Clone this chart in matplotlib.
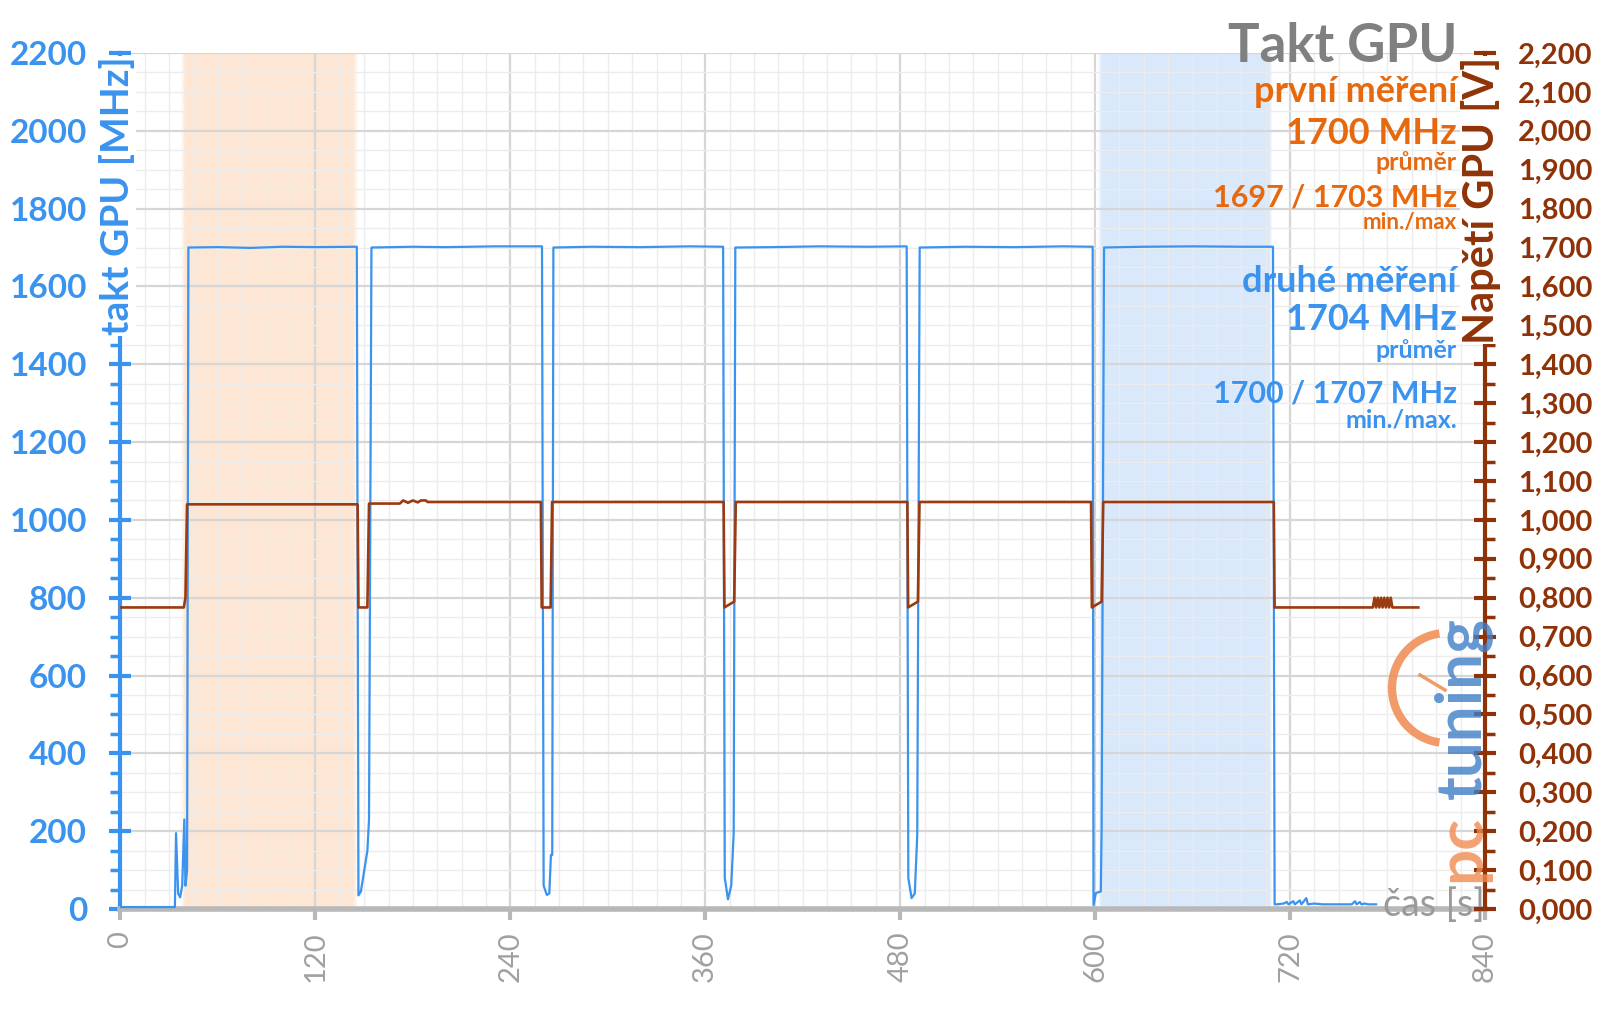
"""
GPU clock (MHz) and GPU voltage (V) over time, two measurement windows highlighted.
"""

import matplotlib
matplotlib.use("Agg")
import matplotlib.pyplot as plt
from matplotlib.ticker import MultipleLocator, FixedLocator
from matplotlib.patches import Arc

plt.rcParams["font.family"] = ["Lato", "DejaVu Sans"]

# --- data ----------------------------------------------------------------
clock_t = [0, 33.5, 34.2, 35.5, 36.7, 38, 39.3, 40, 41, 41.8, 60, 80, 100, 120, 145.5,
           146.5, 148, 152, 153, 154.5, 180, 200, 230, 259.5,
           260.5, 262.5, 264, 265, 265.8, 266.5, 290, 320, 350, 371,
           372, 374, 376, 377.5, 378.5, 400, 430, 460, 484,
           485, 487, 489, 490.5, 492, 520, 550, 580, 598.5,
           599, 600.5, 603.5, 604, 605.5, 630, 660, 690, 709.5,
           710.5, 712, 716, 718, 719, 722, 723, 726, 727, 730, 731, 735, 740, 750,
           758, 760, 761, 763, 764, 766, 768, 773]
clock_mhz = [5, 5, 195, 40, 30, 60, 230, 60, 100, 1700, 1701, 1699, 1702, 1701, 1702,
             35, 45, 150, 230, 1700, 1702, 1701, 1703, 1703,
             60, 36, 40, 139, 139, 1700, 1702, 1701, 1703, 1702,
             80, 25, 60, 195, 1700, 1701, 1703, 1702, 1703,
             80, 28, 40, 190, 1700, 1702, 1701, 1703, 1702,
             10, 41, 45, 203, 1700, 1702, 1703, 1702, 1702,
             12, 12, 14, 18, 12, 20, 12, 22, 12, 28, 12, 14, 12, 12,
             12, 20, 12, 18, 12, 14, 12, 12]

volt_t = [0, 39, 40, 41, 146, 146.5, 152, 153, 172, 174, 177, 180, 183, 185, 188, 189,
          258.8, 259.3, 264.8, 265.7, 371.3, 371.8, 377.8, 378.8,
          484.4, 484.9, 490.9, 491.9, 597.5, 598, 604, 605, 710, 710.5,
          771, 772, 773, 774, 775, 776, 777, 778, 779, 780, 781, 782, 783, 799]
volt_v = [0.775, 0.775, 0.80, 1.040, 1.040, 0.775, 0.775, 1.042, 1.042, 1.050, 1.044, 1.050,
          1.045, 1.050, 1.050, 1.046,
          1.046, 0.775, 0.775, 1.046, 1.046, 0.775, 0.790, 1.046,
          1.046, 0.775, 0.790, 1.046, 1.046, 0.775, 0.790, 1.046, 1.046, 0.775,
          0.775, 0.80, 0.775, 0.80, 0.775, 0.80, 0.775, 0.80, 0.775, 0.80, 0.775, 0.80, 0.775, 0.775]

first_window = (40, 143)    # first measurement (orange)
second_window = (604, 707)  # second measurement (blue)

x_ticks = [0, 120, 240, 360, 480, 600, 720, 840]
mhz_ticks = list(range(0, 2201, 200))
volt_ticks = [i / 10 for i in range(0, 23)]

BLUE = "#3a93ee"
ORANGE = "#e8680e"
BROWN = "#8f3208"
GREY = "#9a9a9a"


def soft_band(ax, x0, x1, color, fade_left, fade_right):
    ax.axvspan(x0, x1, color=color, lw=0, zorder=0.4)
    steps = 5
    for i in range(steps):
        a = 1 - (i + 1) / (steps + 1)
        w = fade_left / steps
        ax.axvspan(x0 - (i + 1) * w, x0 - i * w, color=color, alpha=a, lw=0, zorder=0.4)
        w = fade_right / steps
        ax.axvspan(x1 + i * w, x1 + (i + 1) * w, color=color, alpha=a, lw=0, zorder=0.4)


fig = plt.figure(figsize=(16, 10.09), dpi=100)
ax = fig.add_axes([0.0753, 0.0991, 0.8528, 0.8484])
ax2 = ax.twinx()

soft_band(ax, *first_window, "#fde6d3", 3, 3)
soft_band(ax, *second_window, "#d9e8fb", 2, 2)

ax.plot(clock_t, clock_mhz, color=BLUE, lw=1.6, zorder=3)
ax2.plot(volt_t, volt_v, color="#9b3a10", lw=1.9, zorder=4)

ax.set_xlim(0, 840)
ax.set_ylim(0, 2200)
ax2.set_ylim(0, 2.2)

ax.xaxis.set_major_locator(FixedLocator(x_ticks))
ax.xaxis.set_minor_locator(MultipleLocator(15))
ax.yaxis.set_major_locator(FixedLocator(mhz_ticks))
ax.yaxis.set_minor_locator(MultipleLocator(50))
ax2.yaxis.set_major_locator(FixedLocator(volt_ticks))
ax2.yaxis.set_minor_locator(MultipleLocator(0.05))

ax.set_axisbelow(True)
ax.grid(which="major", color="#d6d6d6", lw=1.6)
ax.grid(which="minor", color="#ececec", lw=1.0)

for s in ("top", "right"):
    ax.spines[s].set_visible(False)
ax.spines["left"].set_color(BLUE)
ax.spines["left"].set_linewidth(3)
ax.spines["bottom"].set_color("#b8b8b8")
ax.spines["bottom"].set_linewidth(4)
for s in ("top", "left", "bottom"):
    ax2.spines[s].set_visible(False)
ax2.spines["right"].set_color(BROWN)
ax2.spines["right"].set_linewidth(3)

ax.tick_params(axis="x", which="major", direction="out", length=8, width=3, color="#b8b8b8",
               labelsize=21, labelcolor="#a0a0a0", labelrotation=90, pad=8)
ax.tick_params(axis="x", which="minor", length=0)
ax.tick_params(axis="y", which="major", direction="inout", length=16, width=3, color=BLUE,
               labelsize=24, labelcolor=BLUE, pad=16)
ax.tick_params(axis="y", which="minor", direction="out", length=7, width=2.5, color=BLUE)
ax2.tick_params(axis="y", which="major", direction="inout", length=16, width=3, color=BROWN,
                labelsize=21, labelcolor=BROWN, pad=16)
ax2.tick_params(axis="y", which="minor", direction="out", length=7, width=2.5, color=BROWN)

ax.set_yticklabels([str(v) for v in mhz_ticks], fontweight="bold")
ax2.set_yticklabels([f"{v:.3f}".replace(".", ",") for v in volt_ticks], fontweight="bold")
ax.set_xticklabels([str(v) for v in x_ticks])

# axis titles sitting on top of the spines
fig.text(117 / 1600, 1 - 196 / 1009, "takt GPU [MHz]", rotation=90, ha="center", va="center",
         fontsize=28, fontweight="bold", color=BLUE, zorder=10,
         bbox=dict(facecolor="white", edgecolor="none", pad=0.5))
fig.text(1481 / 1600, 1 - 200 / 1009, "Napětí GPU [V]", rotation=90, ha="center", va="center",
         fontsize=30, fontweight="bold", color=BROWN, zorder=10,
         bbox=dict(facecolor="white", edgecolor="none", pad=0.5))

# pctuning watermark
fig.patches.append(Arc((1447 / 1600, 1 - 688 / 1009), 110 / 1600, 110 / 1009, theta1=95, theta2=265,
                       transform=fig.transFigure, color="#f08a50", lw=6, alpha=0.85))
fig.lines.append(plt.Line2D([1445 / 1600, 1420 / 1600], [1 - 690 / 1009, 1 - 675 / 1009],
                            transform=fig.transFigure, color="#f08a50", lw=2.5, alpha=0.85))
fig.text(1462 / 1600, 1 - 708 / 1009, "tuning", rotation=90, ha="center", va="center",
         fontsize=46, fontweight="bold", color="#3f7fc6", alpha=0.8)
fig.text(1462 / 1600, 1 - 848 / 1009, "pc", rotation=90, ha="center", va="center",
         fontsize=46, fontweight="bold", color="#f08a50", alpha=0.8)

ax.text(840, 10, "čas [s]", ha="right", va="center", fontsize=27, color=GREY, zorder=6)

# summary block, top right
rx = 1457 / 1600
block = [
    ("Takt GPU", 46, 38, "#808080"),
    ("první měření", 92, 26, ORANGE),
    ("1700 MHz", 134, 26, ORANGE),
    ("průměr", 163, 18, ORANGE),
    ("1697 / 1703 MHz", 197, 22, ORANGE),
    ("min./max", 222, 16, ORANGE),
    ("druhé měření", 281, 26, BLUE),
    ("1704 MHz", 320, 26, BLUE),
    ("průměr", 350, 18, BLUE),
    ("1700 / 1707 MHz", 393, 22, BLUE),
    ("min./max.", 420, 18, BLUE),
]
for txt, ypx, size, col in block:
    fig.text(rx, 1 - ypx / 1009, txt, ha="right", va="center", fontsize=size,
             fontweight="bold", color=col, zorder=10)

fig.savefig("out.png", dpi=100)
plt.close(fig)
